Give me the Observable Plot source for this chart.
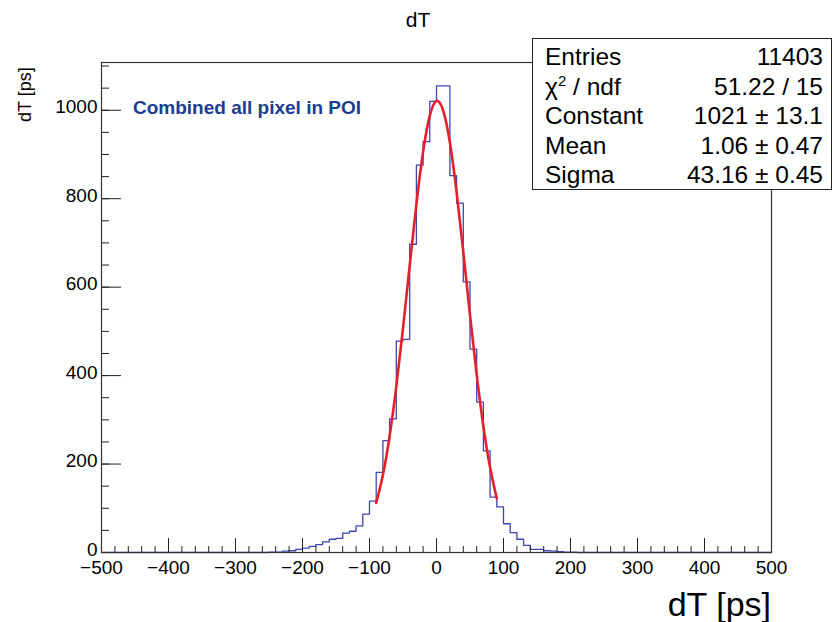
<!DOCTYPE html>
<html><head><meta charset="utf-8">
<script src="https://cdn.jsdelivr.net/npm/d3@7"></script>
<script src="https://cdn.jsdelivr.net/npm/@observablehq/plot@0.6"></script>
<style>
body{margin:0;background:#fff;font-family:"Liberation Sans",Arial,sans-serif;}
#wrap{position:relative;width:836px;height:622px;}
#wrap svg{position:absolute;left:0;top:0;}
.ov{position:absolute;white-space:nowrap;line-height:1;}
#title{left:0;width:836px;top:9px;text-align:center;font-size:21px;}
#ytitle{left:16px;top:60px;font-size:18px;transform-origin:0 0;transform:translate(0,62px) rotate(-90deg);}
#xtitle{right:65px;top:587px;font-size:34px;}
#legend{left:133px;top:98px;font-size:19px;font-weight:bold;color:#1d3c8f;}
#stats{position:absolute;left:532px;top:38px;width:298px;height:147px;border:1px solid #222;background:#fff;font-size:24.5px;line-height:29.5px;padding-top:3px;box-sizing:content-box;}
#stats .row{display:flex;justify-content:space-between;padding:0 8px 0 12px;}
</style></head><body><div id="wrap"></div>
<script>
// histogram: 10 ps bins starting at -250 ps
const binWidth = 10;
const firstBinLeft = -250;
const counts = [1,1,3,4,7,10,14,18,24,30,32,44,48,60,87,116,181,253,302,478,482,697,876,929,1020,1055,1055,852,790,612,460,340,230,125,103,65,45,30,16,7,7,4,3,2,1,1];
// Gaussian fit curve
const fitX = [-90,-80,-70,-60,-50,-40,-30,-20,-10,0,10,20,30,40,50,60,70,80,90];
const fitY = [112,175,263,375,507,649,788,906,988,1021,999,927,815,680,537,402,285,192,122];
const xTicks = [-500,-400,-300,-200,-100,0,100,200,300,400,500];
const yTicks = [0,200,400,600,800,1000];
const statLabels = ["Entries","χ<sup style='font-size:15px;line-height:0'>2</sup> / ndf","Constant","Mean","Sigma"];
const statValues = ["11403","51.22 / 15","1021 ± 13.1","1.06 ± 0.47","43.16 ± 0.45"];
const titleText = "dT";
const axisTitle = "dT [ps]";
const legendText = "Combined all pixel in POI";

const histPts = [{x:-500,y:0}];
counts.forEach((c,i)=>histPts.push({x:firstBinLeft+i*binWidth,y:c}));
histPts.push({x:firstBinLeft+counts.length*binWidth,y:0});
histPts.push({x:500,y:0});
const fit = fitX.map((x,i)=>({x,y:fitY[i]}));

const minorX = d3.range(-500,501,20);
const minorY = d3.range(0,1101,50);
const fmt = d => (d < 0 ? "\u2212" : "") + Math.abs(d);

const chart = Plot.plot({
  width:836,height:622,
  marginLeft:101,marginRight:65,marginTop:62,marginBottom:70,
  x:{domain:[-500,500]},
  y:{domain:[0,1108]},
  style:{fontFamily:'"Liberation Sans",Arial,sans-serif',color:"#000",background:"transparent"},
  marks:[
    Plot.line(histPts,{x:"x",y:"y",curve:"step-after",stroke:"#3f46b0",strokeWidth:1.3}),
    Plot.line(fit,{x:"x",y:"y",curve:"natural",stroke:"#e3202b",strokeWidth:2.6}),
    Plot.axisX({ticks:minorX,tickSize:-6,text:null,label:null,stroke:"#222"}),
    Plot.axisX({ticks:xTicks,tickSize:-14,text:null,label:null,stroke:"#222"}),
    Plot.axisX({ticks:xTicks,tickSize:0,tickPadding:8,fontSize:19,label:null,tickFormat:fmt}),
    Plot.axisY({ticks:minorY,tickSize:-8,text:null,label:null,stroke:"#222"}),
    Plot.axisY({ticks:yTicks,tickSize:-20,text:null,label:null,stroke:"#222"}),
    Plot.axisY({ticks:yTicks,tickSize:0,tickPadding:4,fontSize:19,label:null,tickFormat:fmt,dy:-3}),
    Plot.frame({stroke:"#333",strokeWidth:1.2})
  ]
});
const wrap = document.getElementById("wrap");
wrap.appendChild(chart);
function add(id,html){const d=document.createElement("div");d.className="ov";d.id=id;d.innerHTML=html;wrap.appendChild(d);}
add("title",titleText);
add("ytitle",axisTitle);
add("xtitle",axisTitle);
add("legend",legendText);
const st=document.createElement("div");st.id="stats";
statLabels.forEach((l,i)=>{const r=document.createElement("div");r.className="row";r.innerHTML=`<span>${l}</span><span>${statValues[i]}</span>`;st.appendChild(r);});
wrap.appendChild(st);
</script></body></html>
